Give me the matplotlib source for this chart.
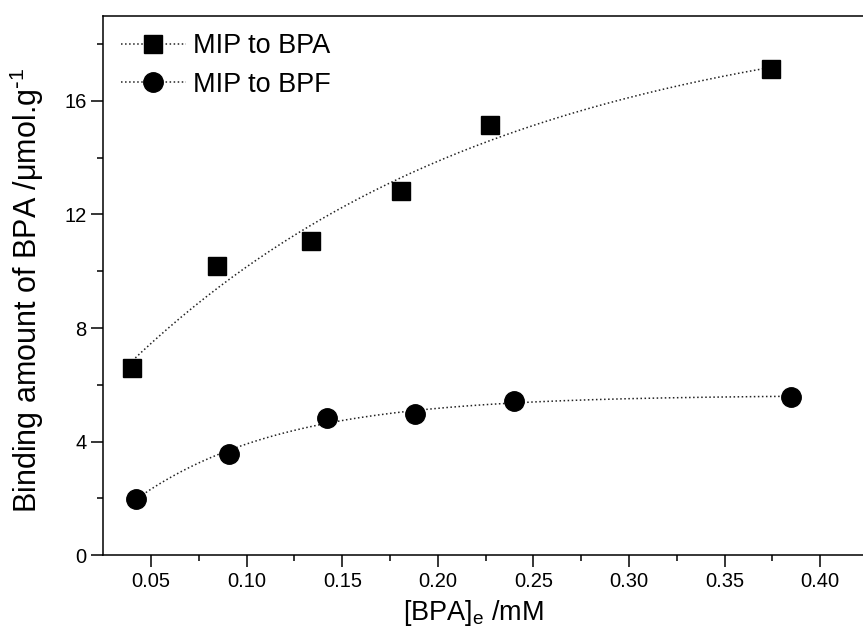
import numpy as np
import matplotlib.pyplot as plt

plt.rcParams['font.family'] = ['Liberation Sans', 'DejaVu Sans']
plt.rcParams['mathtext.default'] = 'regular'

# equilibrium concentration (mM) and binding amount (umol/g)
bpa_conc = [0.0402, 0.0845, 0.1334, 0.1806, 0.2271, 0.3741]
bpa_bind = [6.58, 10.19, 11.07, 12.82, 15.14, 17.12]
bpf_conc = [0.0420, 0.0909, 0.1420, 0.1880, 0.2398, 0.3847]
bpf_bind = [1.99, 3.57, 4.83, 4.98, 5.42, 5.56]


def exp_fit(x, y):
    # y = a + b*exp(-x/t), scan t and solve a, b by least squares
    x = np.asarray(x)
    y = np.asarray(y)
    best = None
    for t in np.linspace(0.01, 1.0, 2000):
        M = np.column_stack([np.ones_like(x), np.exp(-x / t)])
        coef, res, _, _ = np.linalg.lstsq(M, y, rcond=None)
        err = np.sum((M @ coef - y) ** 2)
        if best is None or err < best[0]:
            best = (err, coef, t)
    _, (a, b), t = best
    return lambda xx: a + b * np.exp(-xx / t)


fig = plt.figure(figsize=(8.63, 6.44), dpi=100)
ax = fig.add_axes([0.1197, 0.138, 0.9414, 0.8376])

for x, y, m, ms, lab in [(bpa_conc, bpa_bind, 's', 13, 'MIP to BPA'),
                         (bpf_conc, bpf_bind, 'o', 14, 'MIP to BPF')]:
    f = exp_fit(x, y)
    xs = np.linspace(min(x), max(x), 200)
    ax.plot(xs, f(xs), ls=':', color='#222222', lw=1.1)
    ax.plot(x, y, ls='none', marker=m, ms=ms, color='black')
    # legend entry: dotted line through the marker
    ax.plot([], [], ls=':', color='#222222', lw=1.1, marker=m, ms=ms,
            mfc='black', mec='black', label=lab)

ax.set_xlim(0.025, 0.45)
ax.set_ylim(0, 19)
ax.set_xticks(np.arange(0.05, 0.401, 0.05))
ax.set_xticks(np.arange(0.075, 0.43, 0.05), minor=True)
ax.set_yticks([0, 4, 8, 12, 16])
ax.set_yticks([2, 6, 10, 14, 18], minor=True)
ax.xaxis.set_major_formatter(plt.FormatStrFormatter('%.2f'))
ax.tick_params(which='major', direction='out', length=8.5, width=1.1, labelsize=14.5)
ax.tick_params(which='minor', direction='out', length=4.5, width=1.1)
for s in ax.spines.values():
    s.set_linewidth(1.1)

ax.set_xlabel('[BPA]$_e$ /mM', fontsize=19.5)
ax.xaxis.set_label_coords(0.4558, -0.08)
ax.set_ylabel('Binding amount of BPA /μmol.g$^{\\text{-}1}$', fontsize=22)
ax.yaxis.set_label_coords(-0.07, 0.49)

ax.legend(loc='upper left', frameon=False, fontsize=19.5,
          handlelength=2.4, handletextpad=0.25, labelspacing=0.45,
          borderaxespad=0.25, bbox_to_anchor=(0.0, 1.0))

fig.savefig('out.png', dpi=100)
